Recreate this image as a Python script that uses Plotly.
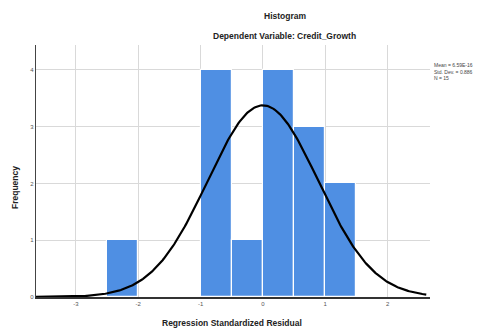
import numpy as np
import plotly.graph_objects as go

# Data
bin_left_edges = [-2.5, -1.0, -0.5, 0.0, 0.5, 1.0]
bin_counts = [1, 4, 1, 4, 3, 2]
bin_width = 0.5
mean_val = 6.59e-16
std_val = 0.886
n_val = 15
x_ticks = [-3, -2, -1, 0, 1, 2]
y_ticks = [0, 1, 2, 3, 4]

centers = [e + bin_width / 2 for e in bin_left_edges]

fig = go.Figure()
fig.add_trace(go.Bar(
    x=centers, y=bin_counts, width=[bin_width] * len(centers),
    marker=dict(color="#4f8fe3", line=dict(color="white", width=1.2)),
    hoverinfo="skip", showlegend=False,
))

xc = np.linspace(-3.64, 2.62, 300)
yc = n_val * bin_width / (std_val * np.sqrt(2 * np.pi)) * np.exp(-0.5 * ((xc - mean_val) / std_val) ** 2)
fig.add_trace(go.Scatter(x=xc, y=yc, mode="lines", line=dict(color="black", width=2.2),
                         showlegend=False, hoverinfo="skip"))

PW, PH = 394, 252
fig.update_layout(
    width=487, height=332,
    margin=dict(l=36, r=57, t=45, b=35, autoexpand=False),
    paper_bgcolor="white", plot_bgcolor="white",
    bargap=0,
    font=dict(family="Liberation Sans, Arial, sans-serif", color="#222"),
    annotations=[
        dict(text="<b>Histogram</b>", xref="paper", yref="paper", x=(285 - 36) / PW, y=1 + (45 - 16) / PH,
             showarrow=False, font=dict(size=8.5, color="#222"), xanchor="center", yanchor="middle"),
        dict(text="<b>Dependent Variable: Credit_Growth</b>", xref="paper", yref="paper", x=(284 - 36) / PW,
             y=1 + (45 - 36) / PH, showarrow=False, font=dict(size=8.5, color="#222"),
             xanchor="center", yanchor="middle"),
        dict(text="Mean = 6.59E-16<br>Std. Dev. = 0.886<br>N = 15", xref="paper", yref="paper",
             x=1.005, y=1 - (60 - 45) / PH, showarrow=False, align="left",
             font=dict(size=5, color="#444"), xanchor="left", yanchor="top"),
        dict(text="<b>Regression Standardized Residual</b>", xref="paper", yref="paper",
             x=(232 - 36) / PW, y=-(323 - 297) / PH, showarrow=False,
             font=dict(size=8.5, color="#222"), xanchor="center", yanchor="middle"),
        dict(text="<b>Frequency</b>", xref="paper", yref="paper", textangle=-90,
             x=-(36 - 15) / PW, y=(297 - 188) / PH, showarrow=False,
             font=dict(size=8.5, color="#222"), xanchor="center", yanchor="middle"),
    ],
    xaxis=dict(
        range=[-3.64, 2.68], tickvals=x_ticks, ticktext=[str(t) for t in x_ticks],
        showgrid=True, gridcolor="#d9d9d9", gridwidth=1, zeroline=False,
        showline=True, linecolor="#333", linewidth=1.5, automargin=False,
        ticks="", tickfont=dict(size=6, color="#555"),
    ),
    yaxis=dict(
        range=[0, 4.44], tickvals=y_ticks, ticktext=[str(t) for t in y_ticks],
        showgrid=True, gridcolor="#d9d9d9", gridwidth=1, zeroline=False,
        showline=True, linecolor="#444", linewidth=1.2, automargin=False,
        ticks="", tickfont=dict(size=6, color="#555"),
    ),
)

fig.write_html("out.html")
